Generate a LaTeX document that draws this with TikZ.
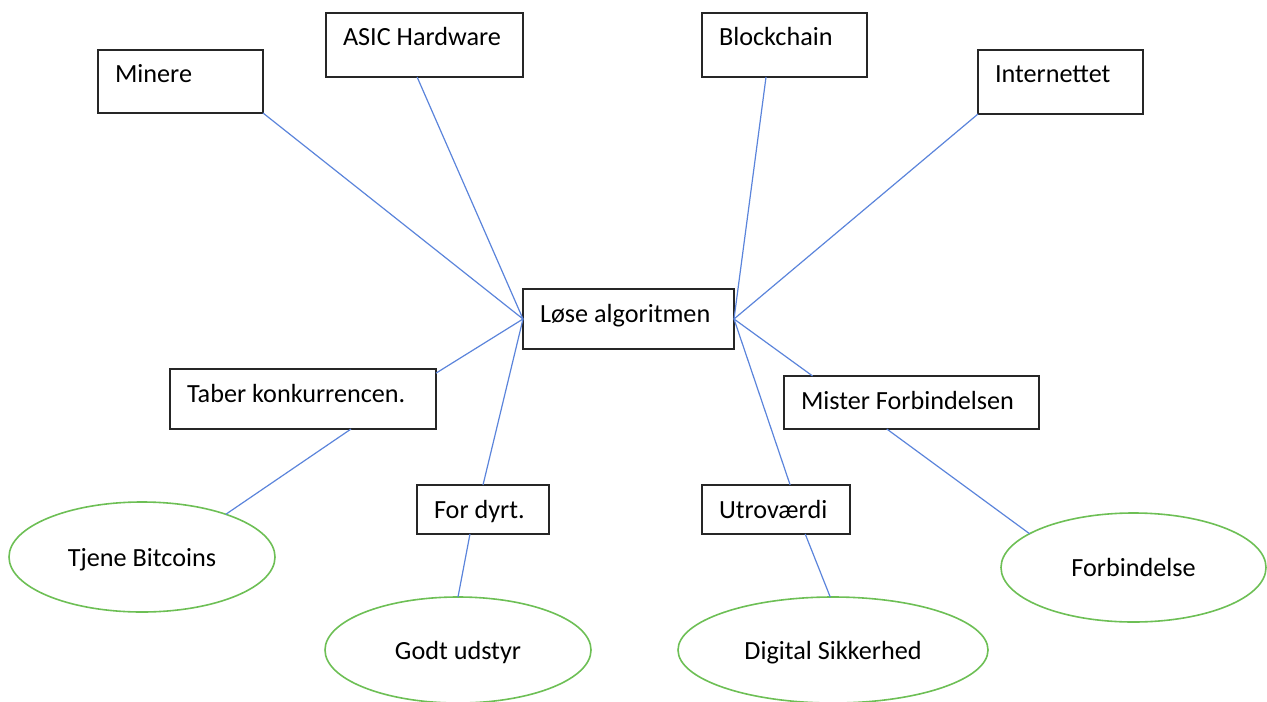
\documentclass[tikz,border=0pt]{standalone}
\usepackage{fontspec}
\setmainfont{Carlito}
\usetikzlibrary{shapes.geometric}
\definecolor{linkblue}{HTML}{5B84DB}
\definecolor{goalgreen}{HTML}{6DBF55}

\begin{document}
\begin{tikzpicture}[x=0.5pt,y=-0.5pt,
  font=\fontsize{13.1pt}{15pt}\selectfont,
  box/.style 2 args={draw=black!85,line width=0.8pt,anchor=north west,
    inner xsep=8.5pt,inner ysep=0pt,outer sep=0pt,align=flush left,
    text height=16.5pt,text width=#1,text depth=#2},
  goal/.style 2 args={ellipse,draw=goalgreen,line width=0.8pt,
    inner sep=0pt,outer sep=0pt,text height=10pt,text depth=1pt,
    minimum width=#1,minimum height=#2},
  link/.style={linkblue,line width=0.6pt}]
\useasboundingbox (0,0) rectangle (1267,701);

% centre
\node[box={88.5pt}{13.5pt}] (loese) at (523,289) {Løse algoritmen};

% upper boxes
\node[box={65.5pt}{15pt}] (minere) at (98,50) {Minere};
\node[box={81.5pt}{15.5pt}] (asic) at (326,13) {ASIC Hardware};
\node[box={65.5pt}{15.5pt}] (blockchain) at (702,13) {Blockchain};
\node[box={65.5pt}{15.5pt}] (internettet) at (978,50) {Internettet};

% lower boxes
\node[box={116pt}{13.5pt}] (taber) at (170,369) {Taber konkurrencen.};
\node[box={49pt}{8pt}] (fordyrt) at (417,485) {For dyrt.};
\node[box={57pt}{8pt}] (utro) at (702,485) {Utroværdi};
\node[box={110.5pt}{10pt}] (mister) at (784,376) {Mister Forbindelsen};

% ellipses
\node[goal={133pt}{55pt}] (tjene) at (142,557) {Tjene Bitcoins};
\node[goal={133pt}{53pt}] (godt) at (458,650) {Godt udstyr};
\node[goal={155pt}{53pt}] (digital) at (833,650) {Digital Sikkerhed};
\node[goal={132.5pt}{54.5pt}] (forbindelse) at (1133.5,567.5) {Forbindelse};

% connectors
\draw[link] (minere.south east) -- (loese.west);
\draw[link] (asic.-103) -- (loese.west);
\draw[link] (taber.11) -- (loese.west);
\draw[link] (fordyrt.north) -- (loese.west);
\draw[link] (blockchain.-120) -- (loese.east);
\draw[link] (internettet.south west) -- (loese.east);
\draw[link] (mister.165) -- (loese.east);
\draw[link] (utro.60) -- (loese.east);
\draw[link] (taber.-32) -- (tjene.27);
\draw[link] (fordyrt.-118) -- (godt.north);
\draw[link] (utro.-40) -- (digital.93);
\draw[link] (mister.-133) -- (forbindelse.162);
\end{tikzpicture}
\end{document}
